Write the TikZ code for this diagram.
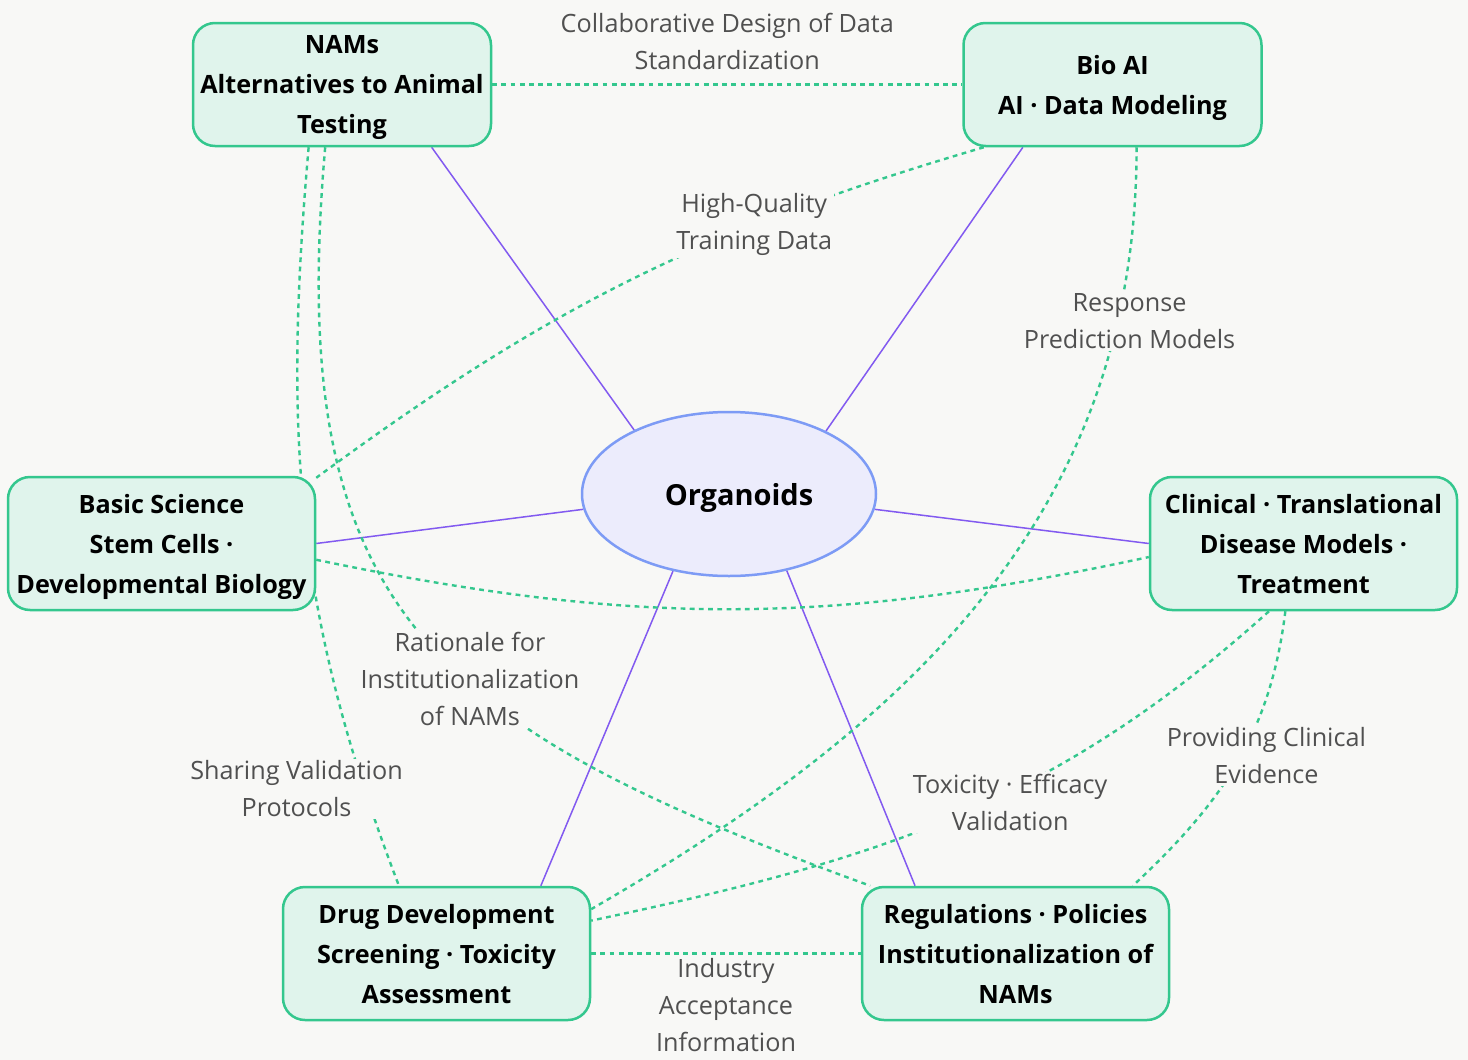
\documentclass[tikz,border=0pt]{standalone}
\usepackage{fontspec}
\usepackage{tikz}
\setmainfont{Open Sans}
\usetikzlibrary{shapes.geometric}

\definecolor{paper}{RGB}{248,248,246}
\definecolor{mint}{RGB}{224,244,236}
\definecolor{boxline}{RGB}{52,199,142}
\definecolor{lavender}{RGB}{236,236,252}
\definecolor{ellblue}{RGB}{125,155,245}
\definecolor{spokeviolet}{RGB}{130,90,240}
\definecolor{labelgray}{RGB}{80,80,80}

\pgfdeclarelayer{bg}
\pgfsetlayers{bg,main}

\begin{document}
\begin{tikzpicture}[x=0.5pt,y=0.5pt,
	box/.style={draw=boxline, fill=mint, line width=1.25pt, rounded corners=11pt, align=center,
		minimum width=153.5pt, minimum height=66.5pt, inner xsep=1pt, text depth=-2pt,
		font=\fontsize{12.6}{20}\selectfont\bfseries},
	smallbox/.style={box, minimum width=149pt, minimum height=61.5pt},
	org/.style={ellipse, draw=ellblue, fill=lavender, line width=1.25pt, text depth=-4pt,
		minimum width=147pt, minimum height=82pt, font=\fontsize{14.5}{16}\selectfont\bfseries},
	lbl/.style={fill=paper, text=labelgray, align=center, inner sep=1pt,
		font=\fontsize{12.6}{18.5}\selectfont},
	link/.style={boxline, line width=1.2pt, dash pattern=on 2.4pt off 2.2pt},
	spoke/.style={spokeviolet, line width=0.75pt}]

			\useasboundingbox (0,0) rectangle (1468,-1060);

			\node[smallbox] (nams) at (342,-84.5) {NAMs\\Alternatives to Animal\\Testing};
			\node[smallbox] (bio) at (1112.5,-84.5) {Bio AI\\AI · Data Modeling};
			\node[box] (basic) at (161.5,-543.5) {Basic Science\\Stem Cells ·\\Developmental Biology};
			\node[box] (clin) at (1303.5,-543.5) {Clinical · Translational\\Disease Models ·\\Treatment};
			\node[box] (drug) at (436.5,-953.5) {Drug Development\\Screening · Toxicity\\Assessment};
			\node[box] (reg) at (1015.5,-953.5) {Regulations · Policies\\Institutionalization of\\NAMs};
			\node[org] (organoids) at (729,-494) {\hspace{10pt}Organoids};

			\begin{pgfonlayer}{bg}
				\fill[paper] (0,0) rectangle (1468,-1060);

				\foreach \a/\tgt in {146/nams.-35, 33/bio.-145, 186/basic.east, -6/clin.west, -126/drug.33, -53/reg.146}
				\draw[spoke] (organoids.\a) -- (\tgt);

				\draw[link] (nams.east) -- node[lbl, above=6pt] {Collaborative Design of Data\\Standardization} (bio.west);
				\draw[link] (bio.206) to[bend right=10] node[lbl, pos=0.31] {High-Quality\\Training Data} (basic.23);
				\draw[link] (bio.-69) to[out=-90, in=30] node[lbl, pos=0.17, xshift=6pt] {Response\\Prediction Models} (drug.16);
				\draw[link] (basic.-6) to[bend right=12] (clin.185);
				\draw[link] (nams.-118) to[out=-95, in=111] node[lbl, pos=0.86, xshift=-32pt, yshift=-6pt] {Sharing Validation\\Protocols} (drug.119);
				\draw[link] (nams.-105) to[out=-95, in=160, looseness=1.3] node[lbl, pos=0.58, xshift=3pt] {Rationale for\\Institutionalization\\of NAMs} (reg.155);
				\draw[link] (clin.-117) to[out=222, in=12] node[lbl, pos=0.43, xshift=5pt, yshift=-3pt] {Toxicity · Efficacy\\Validation} (drug.12);
				\draw[link] (clin.-105) to[out=-97, in=43] node[lbl, pos=0.45, xshift=11pt, yshift=-3pt] {Providing Clinical\\Evidence} (reg.30);
				\draw[link] (drug.east) -- node[lbl, below=1pt] {Industry\\Acceptance\\Information} (reg.west);
			\end{pgfonlayer}
		\end{tikzpicture}
\end{document}
